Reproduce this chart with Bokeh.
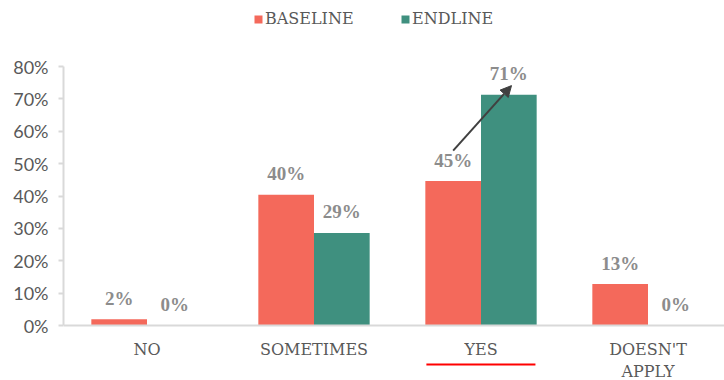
from bokeh.plotting import figure
from bokeh.models import (Range1d, FixedTicker, Legend, LegendItem, Arrow, NormalHead,
                          ColumnDataSource, NumeralTickFormatter, LabelSet)
from bokeh.embed import file_html
from bokeh.resources import INLINE

categories = ["NO", "SOMETIMES", "YES", "DOESN'T\nAPPLY"]
baseline = [0.019, 0.404, 0.446, 0.128]
endline = [0.0, 0.286, 0.713, 0.0]
series_names = ["BASELINE", "ENDLINE"]
y_ticks = [0.0, 0.1, 0.2, 0.3, 0.4, 0.5, 0.6, 0.7, 0.8]

RED = "#F4695B"
TEAL = "#3F907F"
BW = 1 / 3  # bar width in category units

W, H = 724, 380
LEFT = 63
TOP80_PX = 66          # screen y of the 80% tick
ZERO_PX = 325          # screen y of the 0% baseline
CAT_PX = 167
PX_PER_UNIT = (ZERO_PX - TOP80_PX) / 0.8
Y_LOW = -(H - ZERO_PX) / PX_PER_UNIT
Y_HIGH = 0.8 + TOP80_PX / PX_PER_UNIT

p = figure(width=W, height=H, output_backend="svg", toolbar_location=None,
           x_range=Range1d(0, (W - LEFT) / CAT_PX), y_range=Range1d(Y_LOW, Y_HIGH),
           min_border_left=LEFT, min_border_right=0, min_border_top=0,
           min_border_bottom=0)
p.outline_line_color = None
p.grid.visible = False
p.background_fill_color = "white"
p.border_fill_color = "white"

centers = [i + 0.5 for i in range(len(categories))]
xb = [c - BW / 2 for c in centers]
xe = [c + BW / 2 for c in centers]

src_b = ColumnDataSource(dict(x=xb, top=baseline, lab=[f"{round(v*100)}%" for v in baseline]))
src_e = ColumnDataSource(dict(x=xe, top=endline, lab=[f"{round(v*100)}%" for v in endline]))

rb = p.vbar(x="x", top="top", bottom=0, width=BW, source=src_b, fill_color=RED, line_color=None)
re_ = p.vbar(x="x", top="top", bottom=0, width=BW, source=src_e, fill_color=TEAL, line_color=None)

for s in (src_b, src_e):
    p.add_layout(LabelSet(x="x", y="top", text="lab", source=s, text_align="center",
                          text_baseline="middle", y_offset=21,
                          text_font="DejaVu Serif", text_font_style="bold",
                          text_font_size="19px", text_color="#8C8C8C"))

# y axis
ya = p.yaxis[0]
ya.ticker = FixedTicker(ticks=y_ticks)
ya.bounds = (0, 0.8)
ya.formatter = NumeralTickFormatter(format="0%")
ya.axis_line_color = "#D9D9D9"
ya.axis_line_width = 2
ya.major_tick_line_color = "#D9D9D9"
ya.major_tick_line_width = 2
ya.major_tick_out = 5
ya.major_tick_in = 0
ya.minor_tick_line_color = None
ya.major_label_text_font = "Lato"
ya.major_label_text_font_size = "18px"
ya.major_label_text_color = "#595959"
ya.major_label_standoff = 10

# x axis drawn at the 0 line
xa = p.xaxis[0]
xa.fixed_location = 0
xa.ticker = FixedTicker(ticks=centers)
xa.major_label_overrides = {c: lab for c, lab in zip(centers, categories)}
xa.axis_line_color = "#D9D9D9"
xa.axis_line_width = 2
xa.major_tick_line_color = None
xa.major_tick_out = 0
xa.major_tick_in = 0
xa.minor_tick_line_color = None
xa.minor_tick_out = 0
xa.major_label_text_font = "DejaVu Serif"
xa.major_label_text_font_size = "16px"
xa.major_label_text_color = "#595959"
xa.major_label_standoff = 14

# arrow from baseline YES to endline YES
p.add_layout(Arrow(x_start=centers[2] - BW / 2, y_start=baseline[2] + 0.094,
                   x_end=centers[2] + BW / 2 + 0.016, y_end=endline[2] + 0.028,
                   line_color="#404040", line_width=2,
                   end=NormalHead(size=11, fill_color="#404040", line_color="#404040")))

# red underline beneath the YES label
uy = -(364 - ZERO_PX) / PX_PER_UNIT
p.segment(x0=centers[2] - 0.327, y0=uy, x1=centers[2] + 0.326, y1=uy,
          line_color="#FF0000", line_width=2)

legend = Legend(items=[LegendItem(label=series_names[0], renderers=[rb]),
                       LegendItem(label=series_names[1], renderers=[re_])],
                orientation="horizontal", location=(253 - LEFT, H - 28),
                glyph_width=10, glyph_height=10, label_standoff=2, spacing=30,
                label_width=105, padding=0, margin=0, border_line_color=None,
                background_fill_alpha=0, label_text_font="DejaVu Serif",
                label_text_font_size="16px", label_text_color="#595959")
p.add_layout(legend, "center")

open("out.html", "w").write(file_html(p, INLINE))
